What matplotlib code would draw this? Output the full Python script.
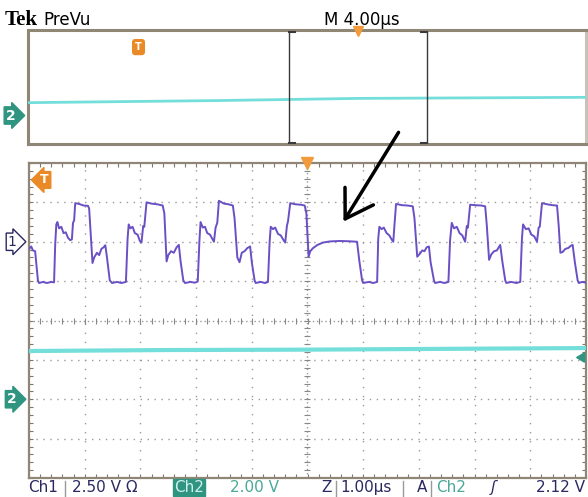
import numpy as np
import matplotlib
matplotlib.use("Agg")
import matplotlib.pyplot as plt
from matplotlib.patches import FancyArrowPatch

# ---------------- data ----------------
# Channel 1 (V) vs time (us), zoom window 1.00 us/div, trigger at t=0
ch1_t = [-5.00, -4.96, -4.93, -4.89, -4.84, -4.82, -4.75, -4.68, -4.60, -4.55,
         -4.53, -4.51, -4.49, -4.46, -4.42, -4.38, -4.34, -4.30, -4.26, -4.23,
         -4.21, -4.19, -4.17, -4.10, -4.02, -3.94,
         -3.92, -3.86, -3.83, -3.78, -3.74, -3.70, -3.66, -3.63,
         -3.60, -3.55, -3.51, -3.42, -3.34, -3.26,
         -3.23, -3.21, -3.18, -3.14, -3.10, -3.05, -3.01, -2.98,
         -2.95, -2.93, -2.89, -2.80, -2.70, -2.60,
         -2.57, -2.53, -2.50, -2.45, -2.40, -2.35, -2.31,
         -2.28, -2.23, -2.20, -2.10, -2.02, -1.97,
         -1.94, -1.92, -1.88, -1.84, -1.80, -1.75, -1.71, -1.68,
         -1.65, -1.62, -1.59, -1.50, -1.42, -1.34,
         -1.31, -1.26, -1.22, -1.18, -1.13, -1.08, -1.03,
         -1.00, -0.95, -0.93, -0.84, -0.76, -0.71,
         -0.68, -0.66, -0.62, -0.58, -0.53, -0.48, -0.43, -0.40,
         -0.37, -0.35, -0.31, -0.22, -0.12, -0.05,
         -0.02, 0.02, 0.05, 0.10, 0.18, 0.28, 0.40, 0.58, 0.75, 0.89,
         0.93, 0.98, 1.00, 1.10, 1.18, 1.25,
         1.27, 1.29, 1.33, 1.37, 1.42, 1.47, 1.51, 1.54,
         1.56, 1.59, 1.70, 1.80, 1.89,
         1.92, 1.97, 2.02, 2.06, 2.10, 2.14, 2.18,
         2.21, 2.27, 2.29, 2.38, 2.46, 2.53,
         2.56, 2.59, 2.63, 2.68, 2.73, 2.78, 2.83,
         2.86, 2.88, 2.92, 3.02, 3.12, 3.19,
         3.22, 3.26, 3.30, 3.35, 3.40, 3.46,
         3.50, 3.55, 3.57, 3.66, 3.75, 3.82,
         3.85, 3.87, 3.92, 3.97, 4.02, 4.07, 4.12,
         4.15, 4.17, 4.21, 4.30, 4.40, 4.48,
         4.51, 4.54, 4.58, 4.63, 4.68, 4.73, 4.76,
         4.80, 4.85, 4.87, 4.93, 5.00]
ch1_v = [-0.45, -0.30, -0.55, -0.60, -2.45, -2.62, -2.55, -2.62, -2.55, -2.58,
         -0.20, 1.10, 1.25, 0.85, 0.95, 0.55, 0.60, 0.25, 0.10, 0.15,
         1.20, 1.35, 2.45, 2.40, 2.30, 2.28,
         2.10, -1.35, -1.00, -0.70, -0.85, -0.45, -0.35, -0.22,
         -1.00, -2.45, -2.62, -2.55, -2.62, -2.55,
         0.20, 1.10, 0.85, 0.95, 0.55, 0.45, 0.05, -0.05,
         1.00, 0.95, 2.50, 2.42, 2.38, 2.30,
         1.80, -1.25, -0.85, -0.60, -0.70, -0.35, -0.20,
         -1.20, -2.45, -2.62, -2.55, -2.60, -2.52,
         0.10, 1.25, 0.90, 0.95, 0.55, 0.45, 0.20, 0.00,
         0.90, 1.20, 2.60, 2.42, 2.38, 2.30,
         1.50, -1.00, -1.30, -0.70, -0.60, -0.40, -0.30,
         -1.30, -2.45, -2.62, -2.55, -2.62, -2.55,
         0.00, 0.95, 0.80, 0.90, 0.50, 0.40, 0.10, -0.05,
         1.00, 1.30, 2.45, 2.38, 2.35, 2.30,
         1.80, -0.95, -0.60, -0.40, -0.20, -0.05, 0.02, 0.05, 0.03, 0.00,
         -1.20, -2.45, -2.62, -2.55, -2.62, -2.55,
         0.20, 0.95, 0.80, 0.90, 0.55, 0.40, 0.15, 0.00,
         1.00, 2.40, 2.32, 2.30, 2.25,
         1.50, -0.95, -0.75, -0.55, -0.60, -0.35, -0.30,
         -1.30, -2.45, -2.62, -2.55, -2.62, -2.55,
         0.10, 1.20, 0.85, 0.95, 0.55, 0.40, 0.00,
         1.00, 0.90, 2.35, 2.32, 2.30, 2.25,
         1.00, -1.15, -0.80, -0.60, -0.55, -0.20,
         -1.30, -2.45, -2.62, -2.55, -2.62, -2.55,
         0.20, 1.10, 0.80, 0.85, 0.45, 0.35, 0.00,
         0.90, 0.95, 2.45, 2.38, 2.32, 2.30,
         1.00, -0.70, -0.65, -0.45, -0.40, -0.25, -0.20,
         -1.30, -2.45, -2.62, -2.55, -2.60]

# Channel 2 (V) in zoom window
ch2_t = [-5.0, -2.5, 0.0, 2.5, 5.0]
ch2_v = [2.45, 2.50, 2.52, 2.56, 2.60]

# Channel 2 (V) in PreVu record (4.00 us/div)
pre_t = [-24.0, -10.0, 0.0, 16.5]
pre_v = [1.80, 2.10, 2.40, 2.55]

ch1_vdiv = 2.50
ch2_vdiv = 2.00
ch1_pos = 2.0      # divisions
ch2_pos = -2.0
trig_level = 2.12

status_texts = ["Ch1", "2.50 V \u03a9", "Ch2", "2.00 V", "Z", "1.00\u00b5s", "A", "Ch2", "2.12 V"]

# ---------------- styling ----------------
W, H = 588, 497
fig = plt.figure(figsize=(W / 100, H / 100), dpi=100)
fig.patch.set_facecolor("white")

PURPLE = "#6a50c4"
CYAN = "#74dedb"
TEAL = "#2f9580"
ORANGE = "#ea8a26"
BORDER = "#8f8676"
GRID = "#9a9a9a"
NAVY = "#2b2860"


def fx(px):
    return px / W


def fy(py):
    return 1 - py / H


# ---------------- main graticule ----------------
ax = fig.add_axes([fx(29), fy(478), (586 - 29) / W, (478 - 163) / H])
ax.set_xlim(-5, 5)
ax.set_ylim(-4, 4)
for s in ax.spines.values():
    s.set_color(BORDER)
    s.set_linewidth(1.6)
ax.set_xticks([])
ax.set_yticks([])
ax.set_xticks(np.arange(-5, 5.01, 0.2), minor=True)
ax.set_yticks(np.arange(-4, 4.01, 0.2), minor=True)
ax.tick_params(which="minor", direction="in", length=3, width=0.8, color="#7d776c",
               top=True, right=True, labelbottom=False, labelleft=False)

for gx in range(-4, 5):
    if gx == 0:
        continue
    ax.axvline(gx, color=GRID, lw=1.0, ls=(0, (1, 5.5)), zorder=1)
for gy in range(-3, 4):
    if gy == 0:
        continue
    ax.axhline(gy, color=GRID, lw=1.0, ls=(0, (1, 4)), zorder=1)
# centre cross with fine ruler
ax.axvline(0, color=GRID, lw=1.0, ls=(0, (1, 2)), zorder=1)
ax.axhline(0, color=GRID, lw=1.0, ls=(0, (1, 2)), zorder=1)
ruler = np.arange(-5, 5.01, 0.2)
ax.plot(ruler, np.zeros_like(ruler), ls="none", marker="|", ms=4, mew=0.8, color="#888888", zorder=1)
ruler_y = np.arange(-4, 4.01, 0.2)
ax.plot(np.zeros_like(ruler_y), ruler_y, ls="none", marker="_", ms=4, mew=0.8, color="#888888", zorder=1)

# traces
ax.plot(np.array(ch2_t), np.array(ch2_v) / ch2_vdiv + ch2_pos, color=CYAN, lw=3.0, zorder=3)
ax.plot(np.array(ch1_t), np.array(ch1_v) / ch1_vdiv + ch1_pos, color=PURPLE, lw=1.4, zorder=4)

# trigger position marker (top) and trigger level arrow (right)
ax.plot([0], [4.0], marker="v", ms=8, color="#f29b3c", clip_on=False, zorder=6)
ax.annotate("", xy=(4.76, trig_level / ch2_vdiv + ch2_pos), xytext=(5.0, trig_level / ch2_vdiv + ch2_pos),
            arrowprops=dict(arrowstyle="-|>,head_length=0.5,head_width=0.3", color=TEAL, lw=1.5),
            zorder=6)

# orange T badge inside graticule
ax.text(-4.72, 3.57, "T", color="white", fontsize=9, fontweight="bold", ha="center", va="center",
        bbox=dict(boxstyle="larrow,pad=0.15", fc=ORANGE, ec=ORANGE), zorder=7)

# channel ground markers
ax.text(-5.22, ch1_pos, "1", color=NAVY, fontsize=10, ha="right", va="center", clip_on=False,
        bbox=dict(boxstyle="rarrow,pad=0.12", fc="white", ec=NAVY, lw=1.0), zorder=7)
ax.text(-5.22, ch2_pos, "2", color="white", fontsize=10, fontweight="bold", ha="right", va="center",
        clip_on=False, bbox=dict(boxstyle="rarrow,pad=0.12", fc=TEAL, ec=TEAL, lw=1.0), zorder=7)

# ---------------- PreVu panel ----------------
axp = fig.add_axes([fx(28), fy(144), (586 - 28) / W, (144 - 30) / H])
axp.set_xlim(-23.9, 16.5)
axp.set_ylim(-4, 4)
axp.set_xticks([])
axp.set_yticks([])
for s in axp.spines.values():
    s.set_color(BORDER)
    s.set_linewidth(2.2)
axp.spines["right"].set_color("#c9c2b8")
axp.plot(pre_t, np.array(pre_v) / ch2_vdiv + ch2_pos, color=CYAN, lw=2.0, zorder=3)

# zoom bracket
for bx, d in ((-5.0, 1), (5.0, -1)):
    axp.plot([bx, bx], [-3.9, 3.85], color="#3a3a3a", lw=1.0, zorder=4)
    axp.plot([bx, bx + d * 0.45], [3.85, 3.85], color="#3a3a3a", lw=1.5, zorder=4)
    axp.plot([bx, bx + d * 0.45], [-3.9, -3.9], color="#3a3a3a", lw=1.5, zorder=4)
axp.plot([0], [3.95], marker="v", ms=7, color="#f29b3c", clip_on=False, zorder=6)
axp.text(-15.9, 2.8, "T", color="white", fontsize=7, fontweight="bold", ha="center", va="center",
         bbox=dict(boxstyle="round,pad=0.25", fc=ORANGE, ec=ORANGE), zorder=6)
axp.text(-24.8, ch2_pos, "2", color="white", fontsize=10, fontweight="bold", ha="right", va="center",
         clip_on=False, bbox=dict(boxstyle="rarrow,pad=0.12", fc=TEAL, ec=TEAL, lw=1.0), zorder=7)

# header texts
fig.text(fx(5), fy(25), "Tek", fontsize=15, fontweight="bold", family="Liberation Serif",
         ha="left", va="baseline", color="black")
fig.text(fx(43), fy(25), "PreVu", fontsize=12, ha="left", va="baseline", color="black")
fig.text(fx(362), fy(25), "M 4.00\u00b5s", fontsize=12, ha="center", va="baseline", color="black")

# annotation arrow
fig.add_artist(FancyArrowPatch(
    (fx(400), fy(130)), (fx(342), fy(224)), transform=fig.transFigure,
    arrowstyle="->,head_length=8,head_width=5", mutation_scale=2.4, color="black", lw=2.5))

# ---------------- status line ----------------
yb = fy(492)
fs = 11
fig.text(fx(28), yb, status_texts[0], fontsize=fs, color=NAVY, ha="left", va="baseline")
fig.text(fx(72), yb, status_texts[1], fontsize=fs, color=NAVY, ha="left", va="baseline")
fig.text(fx(174), yb, status_texts[2], fontsize=fs, color="#cfeff0", ha="left", va="baseline",
         bbox=dict(boxstyle="square,pad=0.08", fc=TEAL, ec=TEAL))
fig.text(fx(230), yb, status_texts[3], fontsize=fs, color="#4aa898", ha="left", va="baseline")
fig.text(fx(321), yb, status_texts[4], fontsize=fs, color=NAVY, ha="left", va="baseline")
fig.text(fx(340), yb, status_texts[5], fontsize=fs, color=NAVY, ha="left", va="baseline")
fig.text(fx(417), yb, status_texts[6], fontsize=fs, color=NAVY, ha="left", va="baseline")
fig.text(fx(436), yb, status_texts[7], fontsize=fs, color="#4aa898", ha="left", va="baseline")
fig.text(fx(491), yb, "\u0283", fontsize=fs, color=NAVY, ha="left", va="baseline", fontstyle="italic")
fig.text(fx(585), yb, status_texts[8], fontsize=fs, color=NAVY, ha="right", va="baseline")
for sx in (65, 336, 403, 431):
    fig.add_artist(plt.Line2D([fx(sx), fx(sx)], [fy(481), fy(496)], color="#9a9a9a", lw=1.0,
                              transform=fig.transFigure))

fig.savefig("out.png", dpi=100)
